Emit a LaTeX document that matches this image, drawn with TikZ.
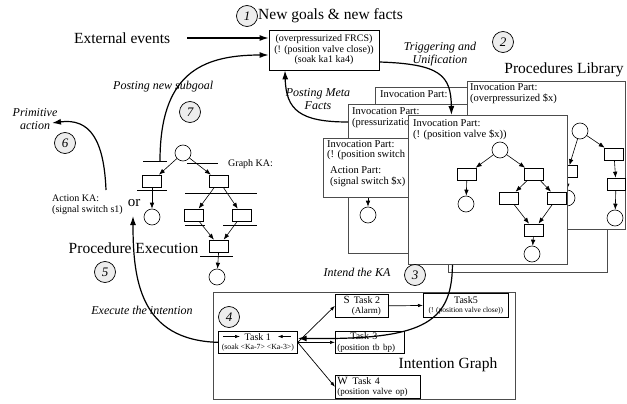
\documentclass[tikz,border=0pt]{standalone}
\usepackage{fontspec}
\setmainfont{Liberation Serif}
\usetikzlibrary{arrows.meta}
\newcommand\myfs[2]{\fontsize{#1}{#2}\selectfont}
\begin{document}
\begin{tikzpicture}[x=1pt,y=-1pt,
  numc/.style={circle,draw,line width=0.7pt,fill=black!7,minimum size=21pt,inner sep=0pt,font=\myfs{13}{13}\itshape},
  bigt/.style={font=\myfs{15.5}{17},inner sep=0pt},
  itt/.style={font=\myfs{12}{13}\itshape,inner sep=0pt,align=center},
  marr/.style={line width=1.2pt,-{Latex[length=9pt,width=6pt]}},
  garr/.style={line width=0.6pt,-{Latex[length=6pt,width=4.5pt]}},
  sarr/.style={line width=0.7pt,-{Latex[length=5pt,width=3.5pt]}},
  card/.style={draw=black!70,line width=0.9pt,fill=white,anchor=north west,inner sep=0pt},
  cardtxt/.style={font=\myfs{10.5}{11.5},anchor=north west,align=left,inner sep=0pt},
  pc/.style={circle,draw,fill=white,minimum size=16pt,inner sep=0pt,line width=0.6pt},
  pr/.style={draw,fill=white,minimum width=19pt,minimum height=12pt,inner sep=0pt,line width=0.6pt},
  bar/.style={line width=0.6pt},
  taskb/.style={draw,line width=0.7pt,inner sep=1pt,anchor=north west,align=center,font=\myfs{10}{10.5}},
]
\useasboundingbox (0,0) rectangle (627,404);

% ---------- top: facts ----------
\node[numc] (n1) at (247,16) {1};
\node[bigt,anchor=west] (newg) at (258,16) {New goals \& new facts};
\node[draw,line width=0.8pt,minimum width=110pt,minimum height=40pt,inner sep=0pt,align=center,font=\myfs{10}{10.5}] (facts) at (324,50)
  {(overpressurized FRCS)\\(! (position valve close))\\(soak ka1 ka4)};
\node[bigt,anchor=west] (ext) at (74,38) {External events};
\draw[marr] ([xshift=17pt]ext.east) -- (ext.east -| facts.west);

% ---------- procedures library ----------
\node[numc] (n2) at (503,42) {2};
\node[itt] (trig) at (440,54) {Triggering and\\Unification};
\node[bigt] (plib) at (564,70) {Procedures Library};

% back cards
\node[card,minimum width=159pt,minimum height=122pt] (cH) at (448,150) {};
\node[card,minimum width=165pt,minimum height=150pt] (cC) at (375,87) {};
\node[cardtxt] (tC) at (380,90) {Invocation Part:};
\node[card,minimum width=172pt,minimum height=149pt] (cG) at (348,104) {};
\node[cardtxt] (tG) at (352,107) {Invocation Part:\\(pressurizatio};
\coordinate (gtop) at (368,185);
\node[pc] (gc) at (368,215) {};
\draw[garr] (gtop) -- (gc);
\node[card,minimum width=107pt,minimum height=59pt] (cF) at (323,138) {};
\node[cardtxt,font=\myfs{10.5}{10.5}] (tF1) at (327,140) {Invocation Part:\\(! (position switch};
\node[cardtxt] (tF2) at (330,166) {Action Part:\\(signal switch \$x)};

% card A
\node[card,minimum width=158pt,minimum height=148pt] (cA) at (467,81) {};
\node[cardtxt] (tA) at (470,83) {Invocation Part:\\(overpressurized \$x)};
\node[pc] (ac0) at (580,131) {};
\node[pr] (ar1) at (567.5,171.5) {};
\node[pc] (ac1) at (567,198) {};
\node[pr] (ar2) at (614,154) {};
\node[pr,minimum width=18pt] (ar3) at (616,184) {};
\node[pc] (ac2) at (615,218) {};
\draw[garr] (ac0) -- (ar1);
\draw[garr] (ar1) -- (ac1);
\draw[garr] (ac0) -- (ar2);
\draw[garr] (ar2) -- (ar3);
\draw[garr] (ar3) -- (ac2);

% card E (front)
\node[card,minimum width=159pt,minimum height=149pt] (cE) at (408,115) {};
\node[cardtxt] (tE) at (413,119) {Invocation Part:\\(! (position valve \$x))};
\node[pc] (ec0) at (500,150) {};
\node[pr] (er1) at (467,174) {};
\node[pc] (ec1) at (466,204) {};
\node[pr] (er2) at (534,174) {};
\node[pr] (er3) at (509,198) {};
\node[pr] (er4) at (557,198) {};
\node[pr] (er5) at (534,230) {};
\node[pc] (ec2) at (532,254) {};
\draw[garr] (ec0) -- (er1);
\draw[garr] (ec0) -- (er2);
\draw[garr] (er1) -- (ec1);
\draw[garr] (er2) -- (er3);
\draw[garr] (er2) -- (er4);
\draw[garr] (er3) -- (er5);
\draw[garr] (er4) -- (er5);
\draw[garr] (er5) -- (ec2);

% triggering arrow & posting meta facts
\draw[marr] ([yshift=-12pt]facts.east) .. controls (440,64) and (451,75) .. ([xshift=-36.5pt]cE.north);
\node[itt] (meta) at (318,99) {Posting Meta\\Facts};
\coordinate (gm) at (348,122);
\draw[marr] (gm) .. controls (300,122) and (286,110) .. ([xshift=-39pt]facts.south);

% ---------- graph KA (procedure execution) ----------
\node[pc] (gc0) at (183,153) {};
\node[pr] (gr1) at (152,181) {};
\node[pc] (gc1) at (152,217) {};
\node[pr] (gr2) at (219,181) {};
\node[pr] (gr3) at (194,215) {};
\node[pr] (gr4) at (242,215) {};
\node[pr] (gr5) at (219,246) {};
\node[pc] (gc2) at (217,277) {};
\coordinate (b1a) at (143,161); \coordinate (b1b) at (167,161);
\coordinate (b2a) at (187,163); \coordinate (b2b) at (218,163);
\coordinate (b3a) at (137,190); \coordinate (b3b) at (167,190);
\coordinate (b4a) at (185,193); \coordinate (b4b) at (257,193);
\coordinate (b5a) at (185,225); \coordinate (b5b) at (205,225);
\coordinate (b6a) at (223,225); \coordinate (b6b) at (257,225);
\coordinate (b7a) at (200,256); \coordinate (b7b) at (233,256);
\foreach \a/\b in {b1a/b1b,b2a/b2b,b3a/b3b,b4a/b4b,b5a/b5b,b6a/b6b,b7a/b7b}
  \draw[bar] (\a) -- (\b);
\draw[garr] (gc0) -- (gr1);
\draw[garr] (gc0) -- (gr2);
\draw[garr] (gr1) -- (gc1);
\draw[garr] (gr2) -- (gr3);
\draw[garr] (gr2) -- (gr4);
\draw[garr] (gr3) -- (gr5);
\draw[garr] (gr4) -- (gr5);
\draw[garr] (gr5) -- (gc2);
\node[anchor=west,inner sep=0pt,font=\myfs{10}{11}] (gka) at (228,164) {Graph KA:};

\node[anchor=west,inner sep=0pt,align=left,font=\myfs{10}{11}] (aka) at (52,205) {Action KA:\\(signal switch s1)};
\node[inner sep=0pt,font=\myfs{15}{15}] (or) at (134,203) {or};
\node[bigt] (pexe) at (133.5,248) {Procedure Execution};

% posting new subgoal
\coordinate (sub) at (160,161);
\draw[marr] (sub) .. controls (160,75) and (200,55) .. ([yshift=-5pt]facts.west);
\node[itt,anchor=west] (psub) at (113,87) {Posting new subgoal};
\node[numc] (n7) at (190,112) {7};

% primitive action
\node[itt] (prim) at (35,119.5) {Primitive\\action};
\node[numc] (n6) at (65,143) {6};
\coordinate (pst) at (106,190);
\coordinate (pend) at (52,123);
\draw[marr] (pst) .. controls (104,140) and (90,118) .. (pend);

% ---------- intention graph ----------
\node[draw=black!70,line width=0.9pt,minimum width=302pt,minimum height=107pt,inner sep=0pt,anchor=north west] (ig) at (213,292) {};
\node[bigt] (igt) at (448,365) {Intention Graph};
\node[taskb,minimum width=79pt,minimum height=22pt] (task1) at (218,331) {Task 1\\[-1pt]{\myfs{7.8}{9}(soak <Ka-7> <Ka-3>)}};
\draw[sarr] ([shift={(5,5.5)}]task1.north west) -- ++(17,0);
\draw[sarr] ([shift={(-7,5.5)}]task1.north east) -- ++(-13,0);
\node[taskb,minimum width=53pt,minimum height=23pt] (task2) at (335,294) {{\myfs{11}{11}S}\hspace{4pt}Task 2\\\hspace*{9pt}{\myfs{9}{10}(Alarm)}};
\node[taskb,minimum width=69pt,minimum height=22pt,align=left,text width=65pt] (task3) at (335,331) {\hspace*{13pt}Task 3\\{\myfs{9}{10}(position tb bp)}};
\node[taskb,minimum width=85pt,minimum height=23pt,align=left,text width=81pt] (task4) at (335,375) {{\myfs{11}{11}W}\hspace{5pt}Task 4\\{\myfs{9}{10}(position valve op)}};
\node[taskb,minimum width=85pt,minimum height=24pt,line width=0.9pt] (task5) at (423,293) {Task5\\[-1pt]{\myfs{7.5}{8.5}(! (position valve close))}};
\draw[sarr] (task1.east) -- (task2.west);
\draw[sarr] (task1.east) -- (task3.west);
\draw[sarr] (task1.east) -- (task4.west);
\draw[sarr] (task2.east) -- (task5.west);
\node[numc] (n4) at (229,317) {4};

% intend the KA
\node[itt] (intend) at (357,272) {Intend the KA};
\node[numc] (n3) at (415,275) {3};
\draw[marr] ([xshift=-35.5pt]cE.south) .. controls (452,325) and (420,340) .. ([yshift=4pt]task1.east);

% execute the intention
\node[itt] (exe) at (142,310) {Execute the intention};
\node[numc] (n5) at (105,272) {5};
\coordinate (ortip) at (133,216);
\draw[marr] (task1.west) .. controls (140,340) and (133,280) .. (ortip);
\end{tikzpicture}
\end{document}
